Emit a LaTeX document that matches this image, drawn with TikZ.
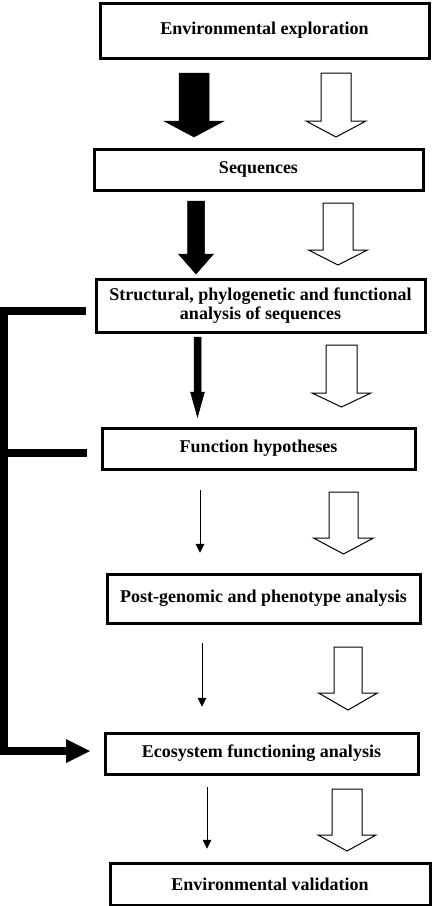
\documentclass[tikz,border=0pt]{standalone}
\usepackage{fontspec}
\setmainfont{Liberation Serif}
\newcommand{\blockarr}[7]{%
  \draw[#1] ({#2-#4},#3) -- ({#2+#4},#3) -- ({#2+#4},#5) -- ({#2+#6},#5) -- (#2,#7) -- ({#2-#6},#5) -- ({#2-#4},#5) -- cycle;}
\tikzset{
  box/.style={draw, line width=3pt, minimum width=#1, inner sep=0pt, align=center, font=\fontsize{18}{19.5}\selectfont\bfseries},
  solidarr/.style={fill=black, draw=black, line width=0.5pt, line join=miter},
  openarr/.style={fill=white, draw=black, line width=1pt, line join=miter},
  thinarr/.style={draw=black, line width=1pt},
  thinhead/.style={fill=black, draw=black, line width=0.5pt},
  bracket/.style={draw=black, line width=8pt, line join=miter}
}
\begin{document}
\begin{tikzpicture}[x=1pt,y=-1pt]
\useasboundingbox (0,0) rectangle (432,906);
% boxes
\node[box=329pt, minimum height=55pt] (b1) at (264.5,30.5) {Environmental exploration};
\node[box=329pt, minimum height=41pt] (b2) at (258.5,169.5) {Sequences};
\node[box=329pt, minimum height=53pt] (b3) at (260.5,305.5) {Structural, phylogenetic and functional\\analysis of sequences};
\node[box=313pt, minimum height=41pt] (b4) at (258.5,448.5) {Function hypotheses};
\node[box=313pt, minimum height=49pt] (b5) at (263.5,598.5) {Post-genomic and phenotype analysis};
\node[box=313pt, minimum height=41pt] (b6) at (261.5,753.5) {Ecosystem functioning analysis};
\node[box=320pt, minimum height=42pt] (b7) at (270,884) {Environmental validation};
% solid block arrows
\blockarr{solidarr}{194}{73}{15}{121}{30}{137}
\blockarr{solidarr}{196}{201}{8.5}{254}{17.5}{274}
\blockarr{solidarr}{197.5}{337}{3.5}{392}{7}{417}
% thin arrows
\coordinate (t4a) at (200,490); \coordinate (t4b) at (200,544);
\coordinate (t5a) at (202,643); \coordinate (t5b) at (202,698);
\coordinate (t6a) at (207,787); \coordinate (t6b) at (207,840);
\draw[thinarr] (t4a) -- (t4b);
\draw[thinarr] (t5a) -- (t5b);
\draw[thinarr] (t6a) -- (t6b);
\fill[thinhead] (196,544) -- (204,544) -- (200,552) -- cycle;
\fill[thinhead] (198,698) -- (206,698) -- (202,706) -- cycle;
\fill[thinhead] (203,840) -- (211,840) -- (207,848) -- cycle;
% open block arrows
\blockarr{openarr}{336}{73}{15}{121}{30}{137}
\blockarr{openarr}{338}{203}{15}{250}{29.5}{265}
\blockarr{openarr}{341.5}{345}{15.5}{393}{29.5}{407}
\blockarr{openarr}{343.5}{492}{14.5}{538}{30}{554}
\blockarr{openarr}{348}{647}{14}{693}{29.5}{710}
\blockarr{openarr}{347}{789}{15}{835}{29}{851}
% left bracket
\coordinate (k1) at (86,310.5);
\coordinate (k2) at (87,453);
\coordinate (k3) at (4,453);
\coordinate (k4) at (67,751);
\draw[bracket] (k1) -| (k4 -| k3) -- (k4);
\draw[bracket] (k2) -- (0,453);
\fill[black] (66,739) -- (90,751) -- (66,763) -- cycle;
\end{tikzpicture}
\end{document}
